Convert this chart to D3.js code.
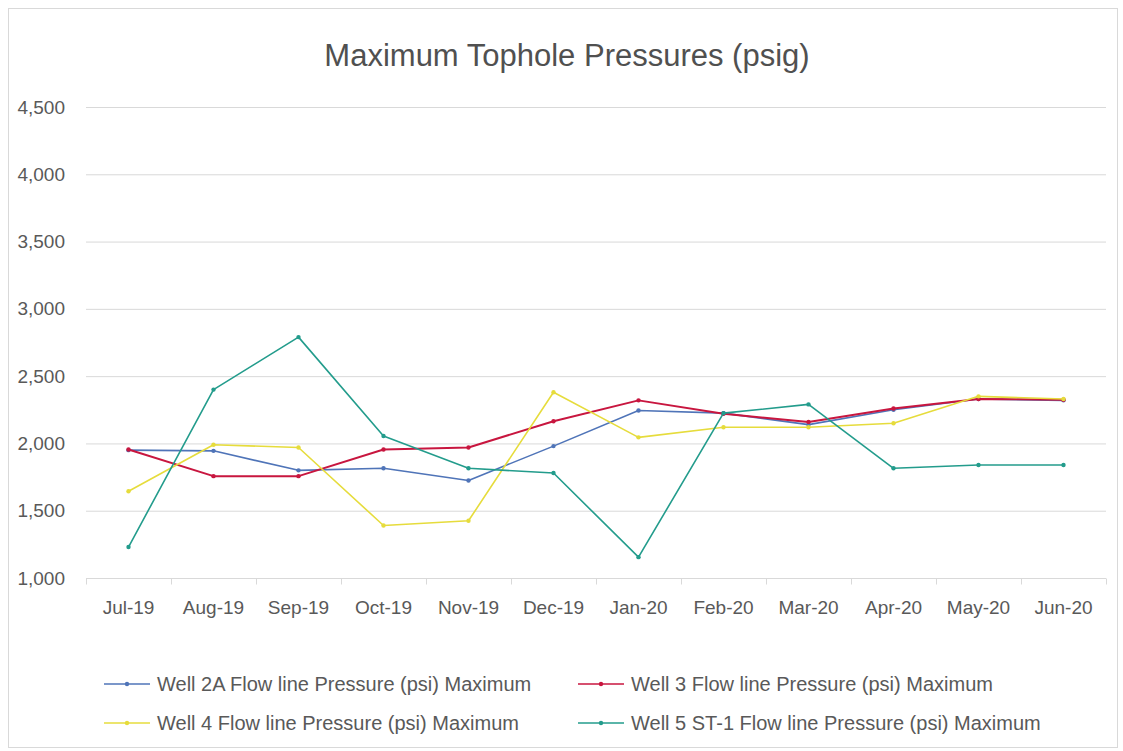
<!DOCTYPE html>
<html><head><meta charset="utf-8">
<script src="https://cdn.jsdelivr.net/npm/d3@7"></script>
<style>body{margin:0;background:#fff}svg{display:block}</style>
</head><body>
<script>
const months = ["Jul-19","Aug-19","Sep-19","Oct-19","Nov-19","Dec-19","Jan-20","Feb-20","Mar-20","Apr-20","May-20","Jun-20"];
const well2A = [1950,1945,1800,1815,1725,1980,2245,2225,2140,2250,2330,2320];
const well3  = [1955,1757,1757,1955,1970,2165,2320,2220,2160,2260,2330,2325];
const well4  = [1645,1990,1970,1390,1425,2380,2045,2120,2120,2150,2350,2330];
const well5  = [1230,2400,2790,2055,1815,1780,1155,2225,2290,1815,1840,1840];
const yTicks = [1000,1500,2000,2500,3000,3500,4000,4500];
const seriesNames = ["Well 2A Flow line Pressure (psi) Maximum","Well 3 Flow line Pressure (psi) Maximum","Well 4 Flow line Pressure (psi) Maximum","Well 5 ST-1 Flow line Pressure (psi) Maximum"];
const seriesColors = ["#4f74b8","#c8163f","#e6dc3c","#239c8c"];
const seriesData = [well2A, well3, well4, well5];

const W = 1123, H = 751;
const font = "'Liberation Sans',Arial,sans-serif";
const svg = d3.select("body").append("svg").attr("width", W).attr("height", H);
svg.append("rect").attr("x",8.5).attr("y",8.5).attr("width",1109).attr("height",739)
  .attr("fill","#fff").attr("stroke","#d9d9d9");

const x = d3.scaleBand().domain(months).range([86,1106]);
const y = d3.scaleLinear().domain([1000,4500]).range([578,107]);

svg.append("text").attr("x",567).attr("y",66).attr("text-anchor","middle")
  .attr("font-family",font).attr("font-size",31).attr("fill","#505050")
  .text("Maximum Tophole Pressures (psig)");

// gridlines
svg.append("g").selectAll("line").data(yTicks.slice(1)).join("line")
  .attr("x1",86).attr("x2",1106).attr("y1",d=>y(d)+0.5).attr("y2",d=>y(d)+0.5)
  .attr("stroke","#d9d9d9").attr("stroke-width",1);

// y axis labels
const yAxis = d3.axisLeft(y).tickValues(yTicks).tickFormat(d3.format(",")).tickSize(0).tickPadding(21);
const gy = svg.append("g").attr("transform","translate(86,0)").call(yAxis);
gy.select(".domain").remove();
gy.selectAll("text").attr("font-family",font).attr("font-size",19).attr("fill","#595959");

// x axis
const gx = svg.append("g").attr("transform","translate(0,578.5)");
gx.append("line").attr("x1",86).attr("x2",1106).attr("stroke","#d9d9d9");
const bounds = months.map((m)=>x(m)).concat([x.range()[1]]);
gx.selectAll("line.tk").data(bounds).join("line").attr("class","tk")
  .attr("x1",d=>Math.round(d)+0.5).attr("x2",d=>Math.round(d)+0.5).attr("y1",0).attr("y2",6).attr("stroke","#d9d9d9");
gx.selectAll("text").data(months).join("text")
  .attr("x",d=>x(d)+x.bandwidth()/2).attr("y",35).attr("text-anchor","middle")
  .attr("font-family",font).attr("font-size",19).attr("fill","#595959").text(d=>d);

// lines
const line = d3.line().x((d,i)=>x(months[i])+x.bandwidth()/2).y(d=>y(d));
seriesData.forEach((data,k)=>{
  const g = svg.append("g");
  g.append("path").datum(data).attr("d",line).attr("fill","none")
    .attr("stroke",seriesColors[k]).attr("stroke-width",k===1?2:1.6).attr("stroke-linejoin","round");
  g.selectAll("circle").data(data).join("circle")
    .attr("cx",(d,i)=>x(months[i])+x.bandwidth()/2).attr("cy",d=>y(d)).attr("r",2.2)
    .attr("fill",seriesColors[k]);
});

// legend
const legPos = [[104,684],[578,684],[104,723],[578,723]];
seriesNames.forEach((n,k)=>{
  const [lx,ly] = legPos[k];
  const g = svg.append("g").attr("transform",`translate(${lx},${ly})`);
  g.append("line").attr("x1",0).attr("x2",46).attr("stroke",seriesColors[k]).attr("stroke-width",1.6);
  g.append("circle").attr("cx",23).attr("r",2.2).attr("fill",seriesColors[k]);
  g.append("text").attr("x",53).attr("y",7).attr("font-family",font).attr("font-size",20)
    .attr("fill","#595959").text(n);
});
</script>
</body></html>
